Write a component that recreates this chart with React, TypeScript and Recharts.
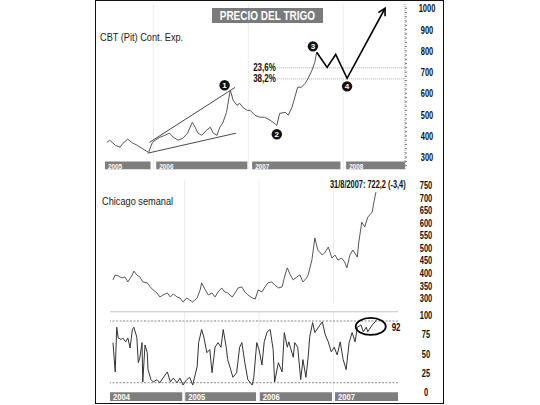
import React from 'react';
import { ComposedChart, Line, XAxis, YAxis, ReferenceArea, ReferenceLine, ReferenceDot } from 'recharts';

const SANS = '"Liberation Sans", Arial, sans-serif';

// ---------- Top panel: CBT (Pit) Cont. Exp. ----------
const topTime = [2005.51, 2005.54, 2005.60, 2005.65, 2005.68, 2005.73, 2005.77, 2005.83, 2005.88, 2005.93,
  2005.95, 2005.99, 2006.02, 2006.07, 2006.12, 2006.17, 2006.21, 2006.26, 2006.31, 2006.36,
  2006.41, 2006.44, 2006.47, 2006.51, 2006.56, 2006.60, 2006.63, 2006.67, 2006.70, 2006.73,
  2006.77, 2006.81, 2006.84, 2006.88, 2006.91, 2006.94, 2006.99, 2007.02, 2007.07, 2007.12,
  2007.17, 2007.23, 2007.26, 2007.30, 2007.33, 2007.39, 2007.42, 2007.46, 2007.49, 2007.52,
  2007.56, 2007.60, 2007.63, 2007.67, 2007.70, 2007.72];
const topPrice = [370, 380, 356, 347, 366, 385, 370, 356, 342, 328,
  323, 370, 380, 394, 403, 413, 394, 380, 389, 413,
  464, 441, 413, 403, 427, 441, 413, 403, 441, 460,
  511, 615, 568, 544, 553, 535, 520, 520, 497, 488,
  488, 474, 464, 450, 506, 511, 497, 535, 582, 629,
  629, 648, 671, 708, 746, 793];
const projTime = [2007.72, 2007.83, 2007.92, 2008.04, 2008.44];
const projPrice = [793, 722, 783, 671, 1000];
const wedgeUpperTime = [2005.96, 2006.86];
const wedgeUpperPrice = [370, 628];
const wedgeLowerTime = [2005.94, 2006.87];
const wedgeLowerPrice = [319, 413];
const fibLabels = ['23,6%', '38,2%'];
const fibLevels = [720, 668];
const fibStart = 2007.30;
const waveLabels = ['1', '2', '3', '4'];
const waveTime = [2006.75, 2007.30, 2007.68, 2008.04];
const wavePrice = [638, 408, 821, 633];
const topYearLabels = ['2005', '2006', '2007', '2008'];
const topYearStart = [2005.49, 2006.03, 2007.04, 2008.03];
const topYearEnd = [2005.97, 2006.99, 2007.97, 2008.65];
const topTicks = [260, 280, 300, 320, 340, 360, 380, 400, 420, 440, 460, 480, 500, 520, 540, 560, 580, 600, 620, 640, 660, 680, 700, 720, 740, 760, 780, 800, 820, 840, 860, 880, 900, 920, 940, 960, 980, 1000];
const topGridYears = [2006, 2007, 2008];

// ---------- Middle panel: Chicago semanal ----------
const midTime = [2004.04, 2004.07, 2004.11, 2004.16, 2004.20, 2004.24, 2004.30, 2004.32, 2004.36, 2004.40,
  2004.44, 2004.50, 2004.54, 2004.58, 2004.63, 2004.67, 2004.71, 2004.77, 2004.81, 2004.85,
  2004.90, 2004.94, 2004.98, 2005.03, 2005.07, 2005.11, 2005.17, 2005.21, 2005.23, 2005.28,
  2005.32, 2005.37, 2005.41, 2005.45, 2005.50, 2005.54, 2005.58, 2005.64, 2005.68, 2005.72,
  2005.77, 2005.81, 2005.85, 2005.91, 2005.95, 2005.99, 2006.04, 2006.08, 2006.12, 2006.17,
  2006.21, 2006.26, 2006.31, 2006.35, 2006.38, 2006.42, 2006.46, 2006.51, 2006.55, 2006.59,
  2006.64, 2006.66, 2006.71, 2006.75, 2006.79, 2006.85, 2006.89, 2006.93, 2006.98, 2007.02,
  2007.06, 2007.11, 2007.15, 2007.18, 2007.22, 2007.26, 2007.32, 2007.34, 2007.38, 2007.42,
  2007.46, 2007.52, 2007.54, 2007.57];
const midPrice = [372, 392, 388, 380, 384, 364, 392, 407, 392, 384,
  364, 360, 344, 332, 320, 304, 312, 320, 304, 316,
  304, 300, 284, 300, 292, 284, 300, 332, 360, 332,
  312, 320, 304, 324, 340, 324, 320, 304, 320, 340,
  344, 324, 312, 300, 296, 332, 324, 344, 360, 364,
  352, 340, 344, 392, 420, 392, 372, 384, 392, 364,
  380, 392, 451, 539, 491, 471, 483, 503, 459, 471,
  451, 459, 443, 420, 471, 491, 463, 523, 602, 583,
  622, 642, 678, 722];
const midTicks = [300, 350, 400, 450, 500, 550, 600, 650, 700, 750];
const lastQuote = '31/8/2007: 722,2 (-3,4)';

// ---------- Bottom panel: oscillator ----------
const oscTime = [2004.04, 2004.07, 2004.09, 2004.11, 2004.15, 2004.17, 2004.21, 2004.24, 2004.27, 2004.30,
  2004.32, 2004.36, 2004.38, 2004.40, 2004.43, 2004.44, 2004.47, 2004.50, 2004.51, 2004.55,
  2004.58, 2004.63, 2004.67, 2004.71, 2004.77, 2004.81, 2004.85, 2004.90, 2004.94, 2004.98,
  2005.03, 2005.07, 2005.11, 2005.17, 2005.19, 2005.23, 2005.26, 2005.30, 2005.34, 2005.37,
  2005.41, 2005.45, 2005.49, 2005.52, 2005.56, 2005.58, 2005.62, 2005.65, 2005.70, 2005.74,
  2005.77, 2005.81, 2005.85, 2005.91, 2005.93, 2005.97, 2006.00, 2006.04, 2006.07, 2006.11,
  2006.15, 2006.19, 2006.21, 2006.26, 2006.31, 2006.34, 2006.38, 2006.40, 2006.46, 2006.48,
  2006.52, 2006.56, 2006.59, 2006.63, 2006.66, 2006.68, 2006.72, 2006.75, 2006.79, 2006.85,
  2006.89, 2006.93, 2006.97, 2007.01, 2007.05, 2007.09, 2007.13, 2007.17, 2007.21, 2007.25,
  2007.29, 2007.32, 2007.37, 2007.40, 2007.44, 2007.46, 2007.52, 2007.56, 2007.58];
const oscValue = [64, 26, 84, 70, 68, 70, 65, 70, 57, 81,
  84, 71, 38, 44, 64, 13, 61, 51, 29, 16,
  13, 16, 12, 18, 26, 13, 18, 12, 18, 9,
  16, 19, 9, 33, 64, 81, 71, 51, 55, 25,
  58, 64, 58, 81, 58, 42, 29, 19, 25, 58,
  64, 38, 16, 9, 19, 64, 55, 35, 65, 78,
  81, 55, 13, 38, 26, 77, 58, 65, 45, 64,
  58, 16, 42, 19, 45, 71, 90, 77, 83, 91,
  74, 65, 52, 58, 48, 65, 42, 29, 64, 77,
  65, 84, 87, 78, 84, 78, 87, 91, 94];
const oscTicks = [0, 25, 50, 75, 100];
const oscUpper = 92;
const oscLower = 12;
const oscCircleTime = 2007.50;
const oscCircleValue = 85;
const oscLabelTime = 2007.84;
const oscLabelValue = 84;
const lowYearLabels = ['2004', '2005', '2006', '2007'];
const lowYearStart = [2004.0, 2005.01, 2006.01, 2007.02];
const lowYearEnd = [2004.97, 2005.96, 2006.98, 2007.866];
const lowGridYears = [2005, 2006, 2007];

const zip = (ts: number[], vs: number[]) => ts.map((t, i) => ({ t, v: vs[i] }));

const topData = zip(topTime, topPrice);
const projData = zip(projTime, projPrice);
const upperData = zip(wedgeUpperTime, wedgeUpperPrice);
const lowerData = zip(wedgeLowerTime, wedgeLowerPrice);
const midData = zip(midTime, midPrice);
const oscData = zip(oscTime, oscValue);

// condensed bold text in SVG (horizontal squeeze)
const CText = ({ x, y, anchor = 'start', size = 10, sx = 0.72, fill = '#111', children }: any) => (
  <text transform={`translate(${x},${y}) scale(${sx},1)`} x={0} y={0} textAnchor={anchor} dominantBaseline="central"
    fill={fill} fontFamily={SANS} fontWeight="bold" fontSize={size}>{children}</text>
);

const YearLabel = (props: any) => {
  const vb = props.viewBox || {};
  return <CText x={vb.x + 3} y={vb.y + vb.height / 2 + 0.5} size={props.size} sx={0.8} fill="#fff">{props.text}</CText>;
};

const makeTick = (dx: number, labelled: (v: number) => boolean) => (props: any) => {
  const { x, y, payload } = props;
  if (!labelled(payload.value)) return <g />;
  return <CText x={x + dx} y={y} anchor="middle" size={11} sx={0.68}>{payload.value}</CText>;
};

let prevPt: { x: number; y: number } | null = null;
const arrowDot = (p: any) => {
  const { cx, cy, index } = p;
  const key = `ad-${index}`;
  if (index === 0) prevPt = null;
  let el: React.ReactElement = <g key={key} />;
  if (index === projTime.length - 1 && prevPt) {
    const ang = Math.atan2(cy - prevPt.y, cx - prevPt.x);
    const L = 8;
    const s = 0.5;
    const x1 = cx - L * Math.cos(ang - s);
    const y1 = cy - L * Math.sin(ang - s);
    const x2 = cx - L * Math.cos(ang + s);
    const y2 = cy - L * Math.sin(ang + s);
    el = <path key={key} d={`M${x1},${y1}L${cx},${cy}L${x2},${y2}`} stroke="#000" strokeWidth={1.6} fill="none" />;
  }
  prevPt = { x: cx, y: cy };
  return el;
};

const WaveMark = (label: string) => (p: any) => (
  <g>
    <circle cx={p.cx} cy={p.cy} r={5.2} fill="#111" />
    <text x={p.cx} y={p.cy + 0.5} textAnchor="middle" dominantBaseline="central" fill="#fff"
      fontFamily={SANS} fontWeight="bold" fontSize={8}>{label}</text>
  </g>
);

const FibText = (label: string) => (p: any) => (
  <CText x={p.cx - 1} y={p.cy} anchor="end" size={10} sx={0.8}>{label}</CText>
);

const squeeze = (sx: number): React.CSSProperties => ({ display: 'inline-block', transform: `scaleX(${sx})`, transformOrigin: 'left top', whiteSpace: 'nowrap' });

export default function App() {
  return (
    <div style={{ position: 'fixed', left: 0, top: 0, width: 540, height: 405, background: '#fff', overflow: 'hidden' }}>
      <div style={{ position: 'absolute', left: 95, top: 0, width: 349, height: 404, border: '1px solid #111', boxSizing: 'border-box' }} />

      {/* Top panel */}
      <div style={{ position: 'absolute', left: 0, top: 0 }}>
        <ComposedChart width={540} height={172} margin={{ top: 4, right: 95, bottom: 2, left: 104 }}>
          <XAxis type="number" dataKey="t" domain={[2005.48, 2008.65]} hide allowDataOverflow />
          <YAxis type="number" orientation="right" width={40} domain={[240, 1020]} ticks={topTicks} interval={0}
            axisLine={{ stroke: '#999', strokeDasharray: '1 1' }} tickLine={{ stroke: '#777' }} tickSize={2} tickMargin={3}
            tick={makeTick(17, (v) => v % 100 === 0)} />
          {topGridYears.map((y) => (
            <ReferenceLine key={`tg${y}`} x={y} stroke="#ececec" />
          ))}
          {topYearLabels.map((lab, i) => (
            <ReferenceArea key={`ty${lab}`} x1={topYearStart[i]} x2={topYearEnd[i]} y1={243} y2={280}
              fill="#7e7e7e" fillOpacity={1} stroke="none" label={<YearLabel text={lab} size={8} />} />
          ))}
          {fibLevels.map((lv, i) => (
            <ReferenceLine key={`fl${i}`} segment={[{ x: fibStart, y: lv }, { x: 2008.65, y: lv }]}
              stroke="#aaa" strokeDasharray="1 1" />
          ))}
          <Line data={upperData} dataKey="v" stroke="#333" strokeWidth={0.9} dot={false} isAnimationActive={false} />
          <Line data={lowerData} dataKey="v" stroke="#333" strokeWidth={0.9} dot={false} isAnimationActive={false} />
          <Line data={topData} dataKey="v" stroke="#555" strokeWidth={1} dot={false} isAnimationActive={false} />
          <Line data={projData} dataKey="v" stroke="#000" strokeWidth={1.6} dot={arrowDot} isAnimationActive={false} />
          {fibLevels.map((lv, i) => (
            <ReferenceDot key={`ft${i}`} x={fibStart} y={lv} r={0} shape={FibText(fibLabels[i])} />
          ))}
          {waveLabels.map((lab, i) => (
            <ReferenceDot key={`w${lab}`} x={waveTime[i]} y={wavePrice[i]} r={5} shape={WaveMark(lab)} />
          ))}
        </ComposedChart>
      </div>

      {/* Middle panel */}
      <div style={{ position: 'absolute', left: 0, top: 170 }}>
        <ComposedChart width={540} height={140} margin={{ top: 10, right: 102, bottom: 7, left: 110 }}>
          <XAxis type="number" dataKey="t" domain={[2004, 2007.866]} hide allowDataOverflow />
          <YAxis type="number" orientation="right" width={40} domain={[280, 770]} ticks={midTicks} interval={0}
            axisLine={false} tickLine={false} tickSize={3} tickMargin={2}
            tick={makeTick(23, () => true)} />
          {lowGridYears.map((y) => (
            <ReferenceLine key={`mg${y}`} x={y} stroke="#ececec" />
          ))}
          <Line data={midData} dataKey="v" stroke="#444" strokeWidth={0.9} dot={false} isAnimationActive={false} />
        </ComposedChart>
      </div>

      {/* Bottom panel */}
      <div style={{ position: 'absolute', left: 0, top: 306 }}>
        <ComposedChart width={540} height={99} margin={{ top: 5, right: 102, bottom: 3, left: 110 }}>
          <XAxis type="number" dataKey="t" domain={[2004, 2007.866]} hide allowDataOverflow />
          <YAxis type="number" orientation="right" width={40} domain={[-13, 105]} ticks={oscTicks} interval={0}
            axisLine={false} tickLine={false} tickSize={3} tickMargin={2}
            tick={makeTick(23, () => true)} />
          {lowGridYears.map((y) => (
            <ReferenceLine key={`bg${y}`} x={y} stroke="#ececec" />
          ))}
          <ReferenceLine y={104} stroke="#c4c4c4" />
          <ReferenceLine y={oscUpper} stroke="#888" strokeDasharray="2 1.5" />
          <ReferenceLine y={oscLower} stroke="#888" strokeDasharray="2 1.5" />
          {lowYearLabels.map((lab, i) => (
            <ReferenceArea key={`by${lab}`} x1={lowYearStart[i]} x2={lowYearEnd[i]} y1={-11.7} y2={-0.3}
              fill="#7e7e7e" fillOpacity={1} stroke="none" label={<YearLabel text={lab} size={9.5} />} />
          ))}
          <Line data={oscData} dataKey="v" stroke="#333" strokeWidth={1} dot={false} isAnimationActive={false} />
          <ReferenceDot x={oscCircleTime} y={oscCircleValue} r={0}
            shape={(p: any) => <ellipse cx={p.cx} cy={p.cy} rx={15} ry={8.5} fill="none" stroke="#000" strokeWidth={1.8} />} />
          <ReferenceDot x={oscLabelTime} y={oscLabelValue} r={0}
            shape={(p: any) => <CText x={p.cx} y={p.cy} anchor="middle" size={10.5} sx={0.75}>{oscUpper}</CText>} />
        </ComposedChart>
      </div>

      {/* Texts */}
      <div style={{ position: 'absolute', left: 212, top: 8, width: 111, height: 15, background: '#7a7a7a',
        display: 'flex', justifyContent: 'center', alignItems: 'center', overflow: 'visible' }}>
        <span style={{ display: 'inline-block', transform: 'scaleX(0.74)', whiteSpace: 'nowrap', color: '#fff',
          fontFamily: SANS, fontWeight: 'bold', fontSize: 13.5, lineHeight: '15px' }}>PRECIO DEL TRIGO</span>
      </div>
      <div style={{ position: 'absolute', left: 100, top: 31, fontFamily: SANS, fontSize: 11.5, color: '#222', lineHeight: '13px' }}>
        <span style={squeeze(0.8)}>CBT (Pit) Cont. Exp.</span>
      </div>
      <div style={{ position: 'absolute', left: 102, top: 195, fontFamily: SANS, fontSize: 11.5, color: '#222', lineHeight: '13px' }}>
        <span style={squeeze(0.8)}>Chicago semanal</span>
      </div>
      <div style={{ position: 'absolute', left: 330, top: 179, fontFamily: SANS, fontWeight: 'bold', fontSize: 10, color: '#111', lineHeight: '12px' }}>
        <span style={squeeze(0.74)}>{lastQuote}</span>
      </div>
    </div>
  );
}
